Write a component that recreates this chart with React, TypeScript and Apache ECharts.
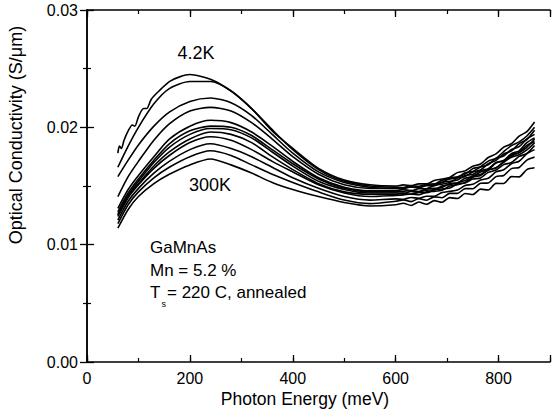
import React, { useEffect, useRef } from "react";
import * as echarts from "echarts";

const FONT = '"Liberation Sans", Arial, Helvetica, sans-serif';

// Photon energy grids (meV)
const energyLeft = [60, 80, 100, 130, 160, 200, 240, 280, 320, 360, 400, 450, 500, 550, 600];
const energyLeft42K = [60, 63, 67, 72, 80, 88, 93, 100, 110, 116, 125, 140, 160, 180, 200, 240, 280, 320, 360, 400, 450, 500, 550, 600];
const energyRight = [615, 630, 645, 660, 675, 690, 705, 720, 735, 750, 765, 780, 795, 810, 825, 840, 855, 870];

// Optical conductivity (S/um), from 4.2 K (top) down to 300 K (bottom)
const sigma4K2 = [0.0178, 0.0184, 0.0182, 0.0189, 0.0197, 0.0202, 0.0201, 0.0209, 0.0216, 0.0216, 0.0224, 0.0231, 0.0239, 0.0243, 0.0245, 0.0241, 0.0231, 0.0216, 0.0197, 0.0182, 0.0165, 0.0155, 0.0151, 0.0150,
  0.01510, 0.01502, 0.01518, 0.01518, 0.01547, 0.01559, 0.01573, 0.01614, 0.01629, 0.01669, 0.01688, 0.01743, 0.01774, 0.01831, 0.01860, 0.01925, 0.01963, 0.02045];
const sigmaT2 = [0.0166, 0.0184, 0.0200, 0.0220, 0.0233, 0.0239, 0.0239, 0.0231, 0.0216, 0.0198, 0.0181, 0.0164, 0.0154, 0.0150, 0.0149,
  0.01487, 0.01503, 0.01497, 0.01514, 0.01516, 0.01548, 0.01559, 0.01571, 0.01612, 0.01624, 0.01662, 0.01680, 0.01736, 0.01756, 0.01811, 0.01835, 0.01901, 0.01940];
const sigmaT3 = [0.0158, 0.0172, 0.0185, 0.0201, 0.0213, 0.0222, 0.0225, 0.0221, 0.0210, 0.0194, 0.0178, 0.0162, 0.0153, 0.0149, 0.0148,
  0.01485, 0.01492, 0.01486, 0.01512, 0.01517, 0.01529, 0.01566, 0.01578, 0.01601, 0.01648, 0.01665, 0.01712, 0.01736, 0.01793, 0.01844, 0.01876, 0.01926, 0.02000];
const sigmaT4 = [0.0141, 0.0158, 0.0171, 0.0189, 0.0203, 0.0214, 0.0217, 0.0214, 0.0204, 0.0190, 0.0175, 0.0160, 0.0151, 0.0148, 0.0148,
  0.01477, 0.01492, 0.01485, 0.01502, 0.01502, 0.01532, 0.01541, 0.01551, 0.01589, 0.01599, 0.01633, 0.01648, 0.01700, 0.01716, 0.01767, 0.01785, 0.01847, 0.01880];
const sigmaT5 = [0.0131, 0.0147, 0.0159, 0.0175, 0.0190, 0.0201, 0.0206, 0.0204, 0.0196, 0.0184, 0.0171, 0.0157, 0.0149, 0.0146, 0.0146,
  0.01470, 0.01461, 0.01477, 0.01477, 0.01505, 0.01516, 0.01529, 0.01568, 0.01581, 0.01620, 0.01637, 0.01690, 0.01718, 0.01773, 0.01799, 0.01861, 0.01896, 0.01975];
const sigmaT6 = [0.0128, 0.0144, 0.0156, 0.0172, 0.0186, 0.0197, 0.0201, 0.0200, 0.0193, 0.0181, 0.0169, 0.0156, 0.0148, 0.0145, 0.0145,
  0.01454, 0.01461, 0.01453, 0.01477, 0.01480, 0.01488, 0.01521, 0.01528, 0.01546, 0.01587, 0.01598, 0.01638, 0.01654, 0.01702, 0.01745, 0.01767, 0.01807, 0.01870];
const sigmaT7 = [0.0126, 0.0142, 0.0154, 0.0170, 0.0183, 0.0194, 0.0199, 0.0198, 0.0191, 0.0179, 0.0167, 0.0154, 0.0147, 0.0144, 0.0144,
  0.01437, 0.01453, 0.01447, 0.01465, 0.01467, 0.01500, 0.01512, 0.01525, 0.01567, 0.01580, 0.01619, 0.01639, 0.01696, 0.01718, 0.01775, 0.01800, 0.01869, 0.01910];
const sigmaT8 = [0.0125, 0.0141, 0.0152, 0.0167, 0.0179, 0.0190, 0.0196, 0.0194, 0.0187, 0.0175, 0.0164, 0.0152, 0.0145, 0.0143, 0.0143,
  0.01439, 0.01430, 0.01444, 0.01442, 0.01467, 0.01474, 0.01483, 0.01518, 0.01526, 0.01559, 0.01569, 0.01616, 0.01636, 0.01682, 0.01700, 0.01752, 0.01777, 0.01845];
const sigmaT9 = [0.0124, 0.0140, 0.0151, 0.0165, 0.0176, 0.0187, 0.0192, 0.0189, 0.0181, 0.0171, 0.0162, 0.0151, 0.0144, 0.0141, 0.0142,
  0.01424, 0.01432, 0.01425, 0.01450, 0.01454, 0.01464, 0.01500, 0.01510, 0.01531, 0.01575, 0.01590, 0.01635, 0.01655, 0.01708, 0.01756, 0.01784, 0.01830, 0.01900];
const sigmaT10 = [0.0121, 0.0137, 0.0148, 0.0161, 0.0171, 0.0181, 0.0186, 0.0182, 0.0175, 0.0166, 0.0157, 0.0148, 0.0141, 0.0138, 0.0139,
  0.01387, 0.01402, 0.01396, 0.01413, 0.01413, 0.01445, 0.01454, 0.01465, 0.01504, 0.01515, 0.01551, 0.01566, 0.01620, 0.01638, 0.01690, 0.01711, 0.01775, 0.01810];
const sigmaT11 = [0.0118, 0.0134, 0.0145, 0.0157, 0.0166, 0.0175, 0.0180, 0.0176, 0.0168, 0.0160, 0.0153, 0.0145, 0.0138, 0.0135, 0.0137,
  0.01381, 0.01367, 0.01392, 0.01379, 0.01407, 0.01400, 0.01437, 0.01437, 0.01478, 0.01477, 0.01523, 0.01526, 0.01580, 0.01590, 0.01648, 0.01658, 0.01721, 0.01746];
const sigma300K = [0.0114, 0.0130, 0.0141, 0.0152, 0.0160, 0.0168, 0.0173, 0.0168, 0.0161, 0.0153, 0.0147, 0.0141, 0.0136, 0.0133, 0.0134,
  0.01353, 0.01334, 0.01363, 0.01344, 0.01375, 0.01361, 0.01401, 0.01393, 0.01436, 0.01427, 0.01473, 0.01466, 0.01522, 0.01521, 0.01580, 0.01578, 0.01640, 0.01655];

const xTicks = [0, 200, 400, 600, 800];
const yTicks = [0, 0.01, 0.02, 0.03];

export default function App() {
  const ref = useRef<HTMLDivElement>(null);
  useEffect(() => {
    if (!ref.current) return;
    const chart = echarts.init(ref.current, null, { renderer: "svg" });
    const fullEnergy = [...energyLeft, ...energyRight];
    const fullEnergy42K = [...energyLeft42K, ...energyRight];
    const curves = [sigma4K2, sigmaT2, sigmaT3, sigmaT4, sigmaT5, sigmaT6, sigmaT7, sigmaT8, sigmaT9, sigmaT10, sigmaT11, sigma300K];
    const series = curves.map((vals, k) => {
      const xs = k === 0 ? fullEnergy42K : fullEnergy;
      return {
        type: "line",
        xAxisIndex: 0,
        yAxisIndex: 0,
        showSymbol: false,
        smooth: 0.25,
        silent: true,
        lineStyle: { color: "#000", width: 1.6 },
        data: xs.map((x, i) => [x, vals[i]]),
      };
    });
    const black = "#000";
    const majorX = {
      type: "value", min: 0, max: 900, interval: 200, gridIndex: 0,
      axisLine: { show: true, lineStyle: { color: black, width: 1.5 } },
      axisTick: { show: true, inside: true, length: 7, lineStyle: { color: black, width: 1.3 } },
      splitLine: { show: false },
    };
    const minorX = {
      type: "value", min: 0, max: 900, interval: 100, gridIndex: 0,
      axisLine: { show: false },
      axisTick: { show: true, inside: true, length: 4, lineStyle: { color: black, width: 1.2 } },
      axisLabel: { show: false },
      splitLine: { show: false },
    };
    const yBase = {
      type: "value", min: 0, max: 0.03, interval: 0.01, gridIndex: 0,
      axisLine: { show: true, lineStyle: { color: black, width: 1.5 } },
      axisTick: { show: true, inside: true, length: 7, lineStyle: { color: black, width: 1.3 } },
      minorTick: { show: true, splitNumber: 2, length: 4, lineStyle: { color: black, width: 1.2 } },
      splitLine: { show: false },
      minorSplitLine: { show: false },
    };
    const option = {
      animation: false,
      backgroundColor: "#fff",
      textStyle: { fontFamily: FONT },
      grid: { left: 87, top: 10, width: 467, height: 352, containLabel: false },
      xAxis: [
        {
          ...majorX, position: "bottom",
          axisLabel: {
            show: true, color: black, fontSize: 16, fontFamily: FONT, margin: 8,
            formatter: (v: number) => (xTicks.includes(v) ? String(v) : ""),
          },
        },
        { ...minorX, position: "bottom" },
        { ...majorX, position: "top", axisLabel: { show: false } },
        { ...minorX, position: "top" },
      ],
      yAxis: [
        {
          ...yBase, position: "left",
          axisLabel: {
            show: true, color: black, fontSize: 16, fontFamily: FONT, margin: 9,
            formatter: (v: number) => {
              const hit = yTicks.find((t) => Math.abs(t - v) < 1e-9);
              return hit === undefined ? "" : hit.toFixed(2);
            },
          },
        },
        { ...yBase, position: "right", axisLabel: { show: false } },
      ],
      graphic: {
        elements: [
          { type: "text", x: 305, y: 399, silent: true,
            style: { text: "Photon Energy (meV)", fill: black, font: `17.5px ${FONT}`, align: "center", verticalAlign: "middle" } },
          { type: "text", x: 16, y: 135, rotation: Math.PI / 2, silent: true,
            style: { text: "Optical Conductivity (S/\u03bcm)", fill: black, font: `18px ${FONT}`, align: "center", verticalAlign: "middle" } },
          { type: "text", x: 196, y: 53, silent: true,
            style: { text: "4.2K", fill: black, font: `18px ${FONT}`, align: "center", verticalAlign: "middle" } },
          { type: "text", x: 210, y: 185, silent: true,
            style: { text: "300K", fill: black, font: `18px ${FONT}`, align: "center", verticalAlign: "middle" } },
          { type: "text", x: 150, y: 247, silent: true,
            style: { text: "GaMnAs", fill: black, font: `17px ${FONT}`, align: "left", verticalAlign: "middle" } },
          { type: "text", x: 150, y: 270, silent: true,
            style: { text: "Mn = 5.2 %", fill: black, font: `17px ${FONT}`, align: "left", verticalAlign: "middle" } },
          { type: "text", x: 150, y: 292.5, silent: true,
            style: { text: "T", fill: black, font: `17px ${FONT}`, align: "left", verticalAlign: "middle" } },
          { type: "text", x: 161.5, y: 304, silent: true,
            style: { text: "s", fill: black, font: `9px ${FONT}`, align: "left", verticalAlign: "middle" } },
          { type: "text", x: 167, y: 292.5, silent: true,
            style: { text: "= 220 C, annealed", fill: black, font: `17px ${FONT}`, align: "left", verticalAlign: "middle" } },
        ],
      },
      series,
    };
    chart.setOption(option as any);
    return () => chart.dispose();
  }, []);
  return (
    <div
      ref={ref}
      style={{ position: "fixed", left: 0, top: 0, width: 553, height: 418, background: "#fff" }}
    />
  );
}
